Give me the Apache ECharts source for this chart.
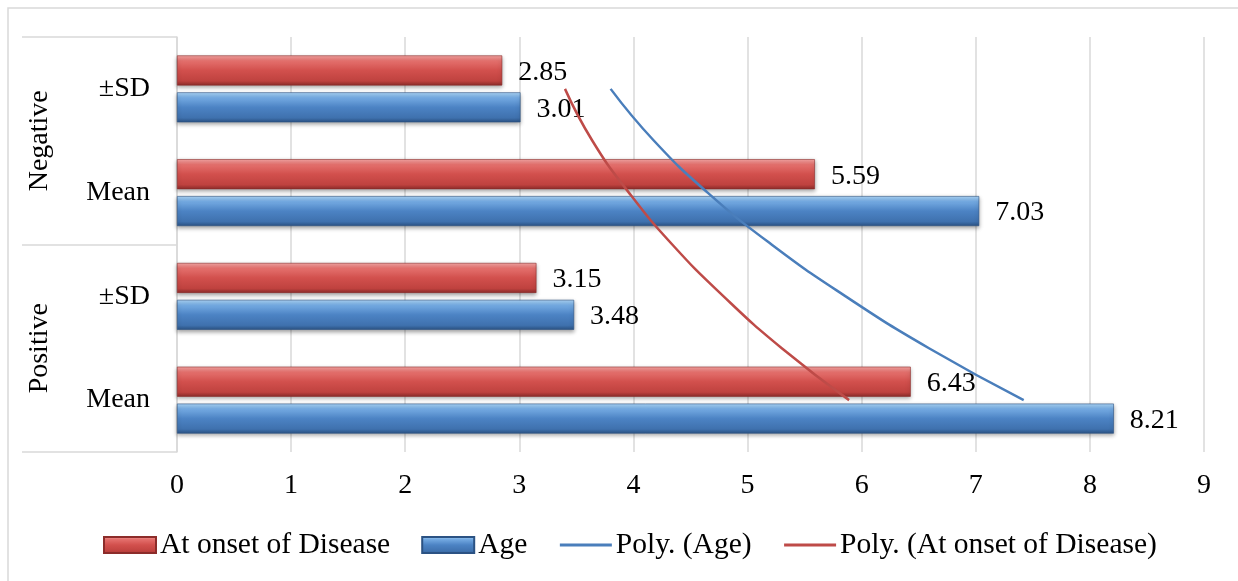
<!DOCTYPE html>
<html><head><meta charset="utf-8">
<script src="https://cdn.jsdelivr.net/npm/echarts@6/dist/echarts.min.js"></script>
<style>html,body{margin:0;padding:0;background:#fff}#c{width:1238px;height:581px}</style>
</head><body><div id="c"></div>
<script>
// Categories, bottom to top
const groups = ['Positive', 'Negative'];
const stats = ['Mean', '±SD'];
const categoryKeys = ['Positive|Mean', 'Positive|±SD', 'Negative|Mean', 'Negative|±SD'];
// Series values (same order as categoryKeys)
const onsetValues = [6.43, 3.15, 5.59, 2.85];
const ageValues = [8.21, 3.48, 7.03, 3.01];
// Polynomial trend lines: [value, category position (1 = bottom)]
const trendPositions = [1, 1.5, 2, 2.5, 3, 3.5, 4];
const ageTrend = [7.42, 6.59, 5.86, 5.21, 4.65, 4.18, 3.80];
const onsetTrend = [5.89, 5.30, 4.79, 4.34, 3.96, 3.64, 3.40];
const xTicks = [0, 1, 2, 3, 4, 5, 6, 7, 8, 9];

const FONT = '"Liberation Serif", "Times New Roman", serif';
const redGrad = new echarts.graphic.LinearGradient(0, 0, 0, 1, [
  {offset: 0, color: '#f6a6a4'}, {offset: 0.18, color: '#e4706d'},
  {offset: 0.5, color: '#d2504d'}, {offset: 0.85, color: '#bf423f'}, {offset: 1, color: '#8c2c2a'}]);
const blueGrad = new echarts.graphic.LinearGradient(0, 0, 0, 1, [
  {offset: 0, color: '#acd6f8'}, {offset: 0.18, color: '#74aae2'},
  {offset: 0.5, color: '#4c83c4'}, {offset: 0.85, color: '#3f71ae'}, {offset: 1, color: '#2b5283'}]);
const AGE_LINE = '#4a7ebb';
const ONSET_LINE = '#be4b48';

const chart = echarts.init(document.getElementById('c'), null, {renderer: 'canvas'});
const labelStyle = {show: true, position: 'right', distance: 16, fontFamily: FONT, fontSize: 28, color: '#000', offset: [0, 2]};
chart.setOption({
  animation: false,
  backgroundColor: '#fff',
  graphic: [{type: 'rect', shape: {x: 8, y: 8, width: 1400, height: 800}, style: {fill: 'none', stroke: '#d9d9d9', lineWidth: 1.5}, silent: true, z: -10}],
  grid: {left: 177, right: 34, top: 37, bottom: 129, containLabel: false},
  legend: {
    left: 103, top: 530, padding: 0, itemWidth: 52, itemHeight: 16, itemGap: 31,
    textStyle: {fontFamily: FONT, fontSize: 29.5, color: '#000', padding: [0, 0, 0, -1]},
    data: [
      {name: 'At onset of Disease', icon: 'rect'},
      {name: 'Age', icon: 'rect'},
      {name: 'Poly. (Age)', itemStyle: {color: 'rgba(0,0,0,0)', borderWidth: 0}, lineStyle: {color: AGE_LINE, width: 3}},
      {name: 'Poly. (At onset of Disease)', itemStyle: {color: 'rgba(0,0,0,0)', borderWidth: 0}, lineStyle: {color: ONSET_LINE, width: 3}}
    ]
  },
  xAxis: {
    type: 'value', min: xTicks[0], max: xTicks[xTicks.length - 1], interval: 1,
    axisLine: {show: false}, axisTick: {show: false},
    splitLine: {show: true, lineStyle: {color: '#d9d9d9', width: 1.5}},
    axisLabel: {fontFamily: FONT, fontSize: 28, color: '#000', margin: 20}
  },
  yAxis: [
    {
      type: 'category', data: categoryKeys, position: 'left',
      axisLine: {show: true, lineStyle: {color: '#d9d9d9', width: 1.5}},
      axisTick: {show: false},
      axisLabel: {fontFamily: FONT, fontSize: 28, color: '#000', margin: 27,
        formatter: v => v.split('|')[1]}
    },
    {
      type: 'category', data: groups, position: 'left',
      axisLine: {show: false},
      axisTick: {show: true, length: 155, lineStyle: {color: '#d9d9d9', width: 1.5}},
      axisLabel: {fontFamily: FONT, fontSize: 28, color: '#000', rotate: 90, margin: 123}
    },
    {type: 'value', min: 0.5, max: 4.5, show: false}
  ],
  series: [
    {
      name: 'At onset of Disease', type: 'bar', yAxisIndex: 0, data: onsetValues,
      barWidth: 30, barGap: '23%',
      itemStyle: {color: redGrad, borderColor: '#8c2c2a', borderWidth: 0.6,
        shadowColor: 'rgba(0,0,0,0.35)', shadowBlur: 4, shadowOffsetY: 2},
      label: Object.assign({}, labelStyle, {formatter: p => p.value.toFixed(2)}),
      z: 2
    },
    {
      name: 'Age', type: 'bar', yAxisIndex: 0, data: ageValues,
      barWidth: 30, barGap: '23%',
      itemStyle: {color: blueGrad, borderColor: '#2b5283', borderWidth: 0.6,
        shadowColor: 'rgba(0,0,0,0.35)', shadowBlur: 4, shadowOffsetY: 2},
      label: Object.assign({}, labelStyle, {formatter: p => p.value.toFixed(2)}),
      z: 2
    },
    {
      name: 'Poly. (Age)', type: 'line', yAxisIndex: 2, smooth: true, symbol: 'none',
      data: ageTrend.map((v, i) => [v, trendPositions[i]]),
      lineStyle: {color: AGE_LINE, width: 2.5}, itemStyle: {color: AGE_LINE}, z: 5
    },
    {
      name: 'Poly. (At onset of Disease)', type: 'line', yAxisIndex: 2, smooth: true, symbol: 'none',
      data: onsetTrend.map((v, i) => [v, trendPositions[i]]),
      lineStyle: {color: ONSET_LINE, width: 2.5}, itemStyle: {color: ONSET_LINE}, z: 5
    }
  ]
});
</script></body></html>
